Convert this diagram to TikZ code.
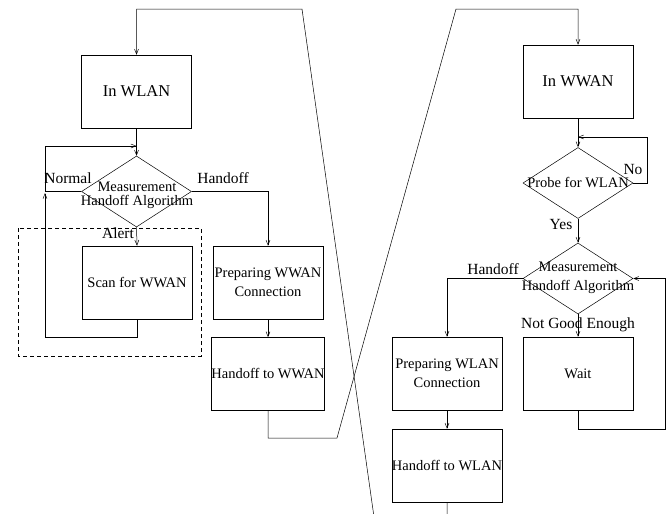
\documentclass[tikz,border=0pt]{standalone}
\usepackage{fontspec}
\setmainfont{Liberation Serif}
\usetikzlibrary{shapes.geometric, arrows.meta}

\begin{document}
\begin{tikzpicture}[x=1pt, y=-1pt, line width=0.5pt,
    box/.style={draw, rectangle, minimum width=110pt, minimum height=73pt, inner sep=0pt, align=center, font=\fontsize{14.5}{19}\selectfont},
    bigbox/.style={box, font=\fontsize{16.5}{20}\selectfont},
    decision/.style={draw, diamond, minimum width=110pt, minimum height=71pt, inner sep=0pt},
    dtext/.style={inner sep=0pt, align=center, font=\fontsize{14.5}{14}\selectfont},
    lbl/.style={inner sep=0pt, font=\fontsize{15.5}{18}\selectfont},
    arr/.style={-{Straight Barb[length=5pt, width=4pt]}}]
  \clip (0,0) rectangle (672,514);

  % WLAN side
  \node[bigbox] (inwlan) at (136.5,91.5) {In WLAN};
  \node[decision] (meas1) at (136.5,191.5) {};
  \node[dtext] (meas1t) at (137,195) {Measurement\\Handoff Algorithm};
  \node[box] (scan) at (137,282.5) {Scan for WWAN};
  \node[box] (prepwwan) at (268,282.5) {Preparing WWAN\\Connection};
  \node[box] (hwwan) at (268,374) {Handoff to WWAN};
  \draw[dash pattern=on 4pt off 3pt] (18,228) rectangle (201,356); % scanning area

  % WWAN side
  \node[bigbox] (inwwan) at (578,81.5) {In WWAN};
  \node[decision] (probe) at (578,183) {};
  \node[dtext] (probet) at (578,183) {Probe for WLAN};
  \node[decision] (meas2) at (578,278.5) {};
  \node[dtext, font=\fontsize{14.5}{19}\selectfont] (meas2t) at (578,278) {Measurement\\Handoff Algorithm};
  \node[box] (wait) at (578,373.5) {Wait};
  \node[box] (prepwlan) at (447,373.5) {Preparing WLAN\\Connection};
  \node[box] (hwlan) at (447,465.5) {Handoff to WLAN};

  % labels
  \node[lbl] (normal) at (68,178) {Normal};
  \node[lbl] (handoff1) at (223,178) {Handoff};
  \node[lbl] (alert) at (118,233) {Alert};
  \node[lbl] (no) at (633,169) {No};
  \node[lbl] (yes) at (561,224) {Yes};
  \node[lbl] (handoff2) at (493,269) {Handoff};
  \node[lbl] (notgood) at (578,325) {Not Good Enough};

  % connectors, WLAN side
  \draw[arr] (inwlan.south) -- (meas1.north);
  \draw[arr] (meas1.west) -- (45,191.5) -- (45,146) -- (136.5,146); % normal
  \draw[arr] (scan.south) -- (137,337) -- (45,337) -- (45,193);
  \draw[arr] (meas1.south) -- (scan.north); % alert
  \draw[arr] (meas1.east) -- (268,191.5) -- (prepwwan.north); % handoff
  \draw[arr] (prepwwan.south) -- (hwwan.north);

  % connectors, WWAN side
  \draw[arr] (inwwan.south) -- (probe.north);
  \draw[arr] (probe.east) -- (647,183) -- (647,137) -- (578,137); % no
  \draw[arr] (probe.south) -- (meas2.north); % yes
  \draw[arr] (meas2.west) -- (447,278.5) -- (prepwlan.north); % handoff
  \draw[arr] (meas2.south) -- (wait.north);
  \draw[arr] (wait.south) -- (578,429) -- (665,429) -- (665,278.5) -- (meas2.east);
  \draw[arr] (prepwlan.south) -- (hwlan.north);

  % crossing links
  \draw[arr] (hwwan.south) -- (268,438) -- (337,438) -- (456,9) -- (578,9) -- (inwwan.north);
  \draw[arr] (hwlan.south) -- (447,524) -- (375,524) -- (302,9) -- (136.5,9) -- (inwlan.north);
\end{tikzpicture}
\end{document}
